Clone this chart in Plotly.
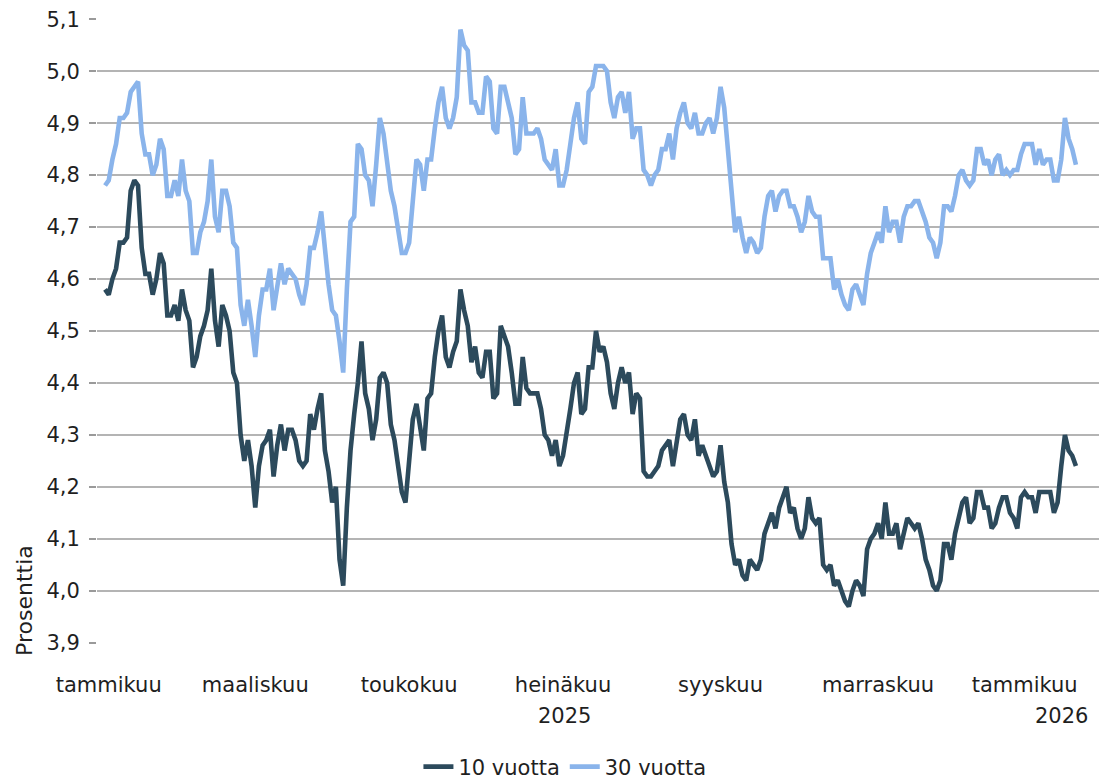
import pandas as pd
import plotly.graph_objects as go

# ---- categories: trading days (Dec 31 2024 .. Jan 23 2026) ----
closed_days = ["2025-01-01", "2025-01-20", "2025-02-17", "2025-04-18", "2025-05-26",
               "2025-07-04", "2025-09-01", "2025-10-13", "2025-11-11", "2025-11-27",
               "2025-12-25", "2026-01-01", "2026-01-19"]
days = [d.strftime("%Y-%m-%d") for d in pd.bdate_range("2024-12-31", "2026-01-23")
        if d.strftime("%Y-%m-%d") not in closed_days]

# ---- series values (percent) ----
ten_year = [
    4.58, 4.57, 4.60, 4.62, 4.67, 4.67, 4.68, 4.77, 4.79, 4.78,
    4.66, 4.61, 4.61, 4.57, 4.60, 4.65, 4.63, 4.53, 4.53, 4.55,
    4.52, 4.58, 4.54, 4.52, 4.43, 4.45, 4.49, 4.51, 4.54, 4.62,
    4.52, 4.47, 4.55, 4.53, 4.50, 4.42, 4.40, 4.30, 4.25, 4.29,
    4.24, 4.16, 4.24, 4.28, 4.29, 4.31, 4.22, 4.28, 4.32, 4.27,
    4.31, 4.31, 4.29, 4.25, 4.24, 4.25, 4.34, 4.31, 4.35, 4.38,
    4.27, 4.23, 4.17, 4.20, 4.06, 4.01, 4.16, 4.27, 4.34, 4.40,
    4.48, 4.38, 4.35, 4.29, 4.33, 4.41, 4.42, 4.40, 4.32, 4.29,
    4.24, 4.19, 4.17, 4.25, 4.33, 4.36, 4.31, 4.27, 4.37, 4.38,
    4.45, 4.50, 4.53, 4.45, 4.43, 4.46, 4.48, 4.58, 4.54, 4.51,
    4.44, 4.47, 4.42, 4.41, 4.46, 4.46, 4.37, 4.38, 4.51, 4.49,
    4.47, 4.42, 4.36, 4.36, 4.45, 4.39, 4.38, 4.38, 4.38, 4.35,
    4.30, 4.29, 4.26, 4.29, 4.24, 4.26, 4.30, 4.35, 4.40, 4.42,
    4.34, 4.35, 4.43, 4.43, 4.50, 4.46, 4.47, 4.44, 4.38, 4.35,
    4.40, 4.43, 4.40, 4.42, 4.34, 4.38, 4.37, 4.23, 4.22, 4.22,
    4.23, 4.24, 4.27, 4.28, 4.29, 4.24, 4.29, 4.33, 4.34, 4.30,
    4.29, 4.33, 4.26, 4.28, 4.26, 4.24, 4.22, 4.23, 4.28, 4.21,
    4.17, 4.09, 4.05, 4.06, 4.03, 4.02, 4.06, 4.05, 4.04, 4.06,
    4.11, 4.13, 4.15, 4.12, 4.16, 4.18, 4.20, 4.15, 4.16, 4.12,
    4.10, 4.12, 4.18, 4.14, 4.13, 4.14, 4.05, 4.04, 4.05, 4.01,
    4.02, 4.00, 3.98, 3.97, 4.00, 4.02, 4.01, 3.99, 4.08, 4.10,
    4.11, 4.13, 4.10, 4.17, 4.11, 4.11, 4.13, 4.08, 4.11, 4.14,
    4.13, 4.12, 4.13, 4.10, 4.06, 4.04, 4.01, 4.00, 4.02, 4.09,
    4.09, 4.06, 4.11, 4.14, 4.17, 4.18, 4.13, 4.14, 4.19, 4.19,
    4.16, 4.16, 4.12, 4.13, 4.16, 4.18, 4.18, 4.15, 4.14, 4.12,
    4.18, 4.19, 4.18, 4.18, 4.15, 4.19, 4.19, 4.19, 4.19, 4.15,
    4.17, 4.24, 4.30, 4.27, 4.26, 4.24,
]

thirty_year = [
    4.78, 4.79, 4.83, 4.86, 4.91, 4.91, 4.92, 4.96, 4.97, 4.98,
    4.88, 4.84, 4.84, 4.80, 4.82, 4.87, 4.85, 4.76, 4.76, 4.79,
    4.76, 4.83, 4.77, 4.75, 4.65, 4.65, 4.69, 4.71, 4.75, 4.83,
    4.72, 4.69, 4.77, 4.77, 4.74, 4.67, 4.66, 4.55, 4.51, 4.56,
    4.51, 4.45, 4.53, 4.58, 4.58, 4.62, 4.54, 4.59, 4.63, 4.59,
    4.62, 4.61, 4.60, 4.57, 4.55, 4.59, 4.66, 4.66, 4.69, 4.73,
    4.65, 4.59, 4.54, 4.53, 4.48, 4.42, 4.58, 4.71, 4.72, 4.86,
    4.85, 4.80, 4.79, 4.74, 4.82, 4.91, 4.88, 4.83, 4.77, 4.74,
    4.70, 4.65, 4.65, 4.67, 4.75, 4.83, 4.82, 4.77, 4.83, 4.83,
    4.89, 4.94, 4.97, 4.91, 4.89, 4.91, 4.95, 5.08, 5.05, 5.04,
    4.94, 4.94, 4.92, 4.92, 4.99, 4.98, 4.89, 4.88, 4.97, 4.97,
    4.94, 4.91, 4.84, 4.85, 4.95, 4.88, 4.88, 4.88, 4.89, 4.87,
    4.83, 4.82, 4.81, 4.85, 4.78, 4.78, 4.81, 4.86, 4.91, 4.94,
    4.87, 4.86, 4.96, 4.97, 5.01, 5.01, 5.01, 5.00, 4.94, 4.91,
    4.95, 4.96, 4.92, 4.96, 4.87, 4.89, 4.89, 4.81, 4.80, 4.78,
    4.80, 4.81, 4.85, 4.85, 4.88, 4.83, 4.89, 4.92, 4.94, 4.90,
    4.89, 4.92, 4.88, 4.88, 4.90, 4.91, 4.88, 4.91, 4.97, 4.93,
    4.86, 4.77, 4.69, 4.72, 4.68, 4.65, 4.68, 4.67, 4.65, 4.66,
    4.72, 4.76, 4.77, 4.73, 4.76, 4.77, 4.77, 4.74, 4.74, 4.72,
    4.69, 4.71, 4.76, 4.73, 4.72, 4.72, 4.64, 4.64, 4.64, 4.58,
    4.60, 4.57, 4.55, 4.54, 4.58, 4.59, 4.57, 4.55, 4.61, 4.65,
    4.67, 4.69, 4.67, 4.74, 4.69, 4.71, 4.71, 4.67, 4.72, 4.74,
    4.74, 4.75, 4.75, 4.73, 4.71, 4.68, 4.67, 4.64, 4.67, 4.74,
    4.74, 4.73, 4.76, 4.80, 4.81, 4.79, 4.78, 4.79, 4.85, 4.85,
    4.82, 4.83, 4.80, 4.83, 4.84, 4.80, 4.81, 4.80, 4.81, 4.81,
    4.84, 4.86, 4.86, 4.86, 4.82, 4.85, 4.82, 4.83, 4.83, 4.79,
    4.79, 4.83, 4.91, 4.87, 4.85, 4.82,
]

# ---- axis labels ----
month_ticks = ["2025-01-02", "2025-03-03", "2025-05-01", "2025-07-01",
               "2025-09-02", "2025-11-03", "2026-01-02"]
month_labels = ["tammikuu", "maaliskuu", "toukokuu", "heinäkuu",
                "syyskuu", "marraskuu", "tammikuu"]
year_labels = ["2025", "2026"]
series_names = ["10 vuotta", "30 vuotta"]
y_title = "Prosenttia"

n = min(len(days), len(ten_year), len(thirty_year))
days = days[:n]

FONT = "DejaVu Sans"
TXT = "#1f1f1f"
DARK = "#2c4a5c"
LIGHT = "#8ab4eb"

fig = go.Figure()
fig.add_trace(go.Scatter(x=days, y=ten_year[:n], mode="lines", name=series_names[0],
                         line=dict(color=DARK, width=4.6)))
fig.add_trace(go.Scatter(x=days, y=thirty_year[:n], mode="lines", name=series_names[1],
                         line=dict(color=LIGHT, width=4.6)))

fig.update_layout(
    width=1099, height=781,
    margin=dict(l=97, r=0, t=19, b=138, autoexpand=False),
    paper_bgcolor="white", plot_bgcolor="white",
    separators=", ",
    font=dict(family=FONT, size=21, color=TXT),
    showlegend=True,
    legend=dict(orientation="h", x=0.467, xanchor="center",
                yref="container", y=0.0179, yanchor="middle",
                font=dict(family=FONT, size=21, color=TXT), itemwidth=30,
                bgcolor="rgba(0,0,0,0)"),
    xaxis=dict(type="category", range=[-2.2, 271.3],
               tickmode="array", tickvals=month_ticks, ticktext=month_labels,
               showgrid=False, showline=False, zeroline=False, ticks="",
               tickfont=dict(family=FONT, size=21, color=TXT),
               ticklabelstandoff=27),
    yaxis=dict(range=[3.8995, 5.1005], tick0=3.9, dtick=0.1, tickformat=".1f",
               showgrid=True, gridcolor="#b4b4b4", gridwidth=1.6,
               zeroline=False, showline=False,
               ticks="outside", ticklen=7, tickwidth=1.6, tickcolor="#9a9a9a",
               tickfont=dict(family=FONT, size=21, color=TXT),
               ticklabelstandoff=5),
    annotations=[
        dict(text=y_title, xref="paper", yref="paper", x=-0.0719, y=0.069,
             xanchor="center", yanchor="middle", textangle=-90, showarrow=False,
             font=dict(family=FONT, size=22, color=TXT)),
        dict(text=year_labels[0], xref="paper", yref="paper", x=0.467, y=-0.117,
             xanchor="center", yanchor="middle", showarrow=False,
             font=dict(family=FONT, size=21, color=TXT)),
        dict(text=year_labels[1], xref="paper", yref="paper", x=0.963, y=-0.117,
             xanchor="center", yanchor="middle", showarrow=False,
             font=dict(family=FONT, size=21, color=TXT)),
    ],
)

fig.write_html("out.html", config={"displayModeBar": False},
               post_script="document.body.style.margin='0';document.body.style.overflow='hidden';")
